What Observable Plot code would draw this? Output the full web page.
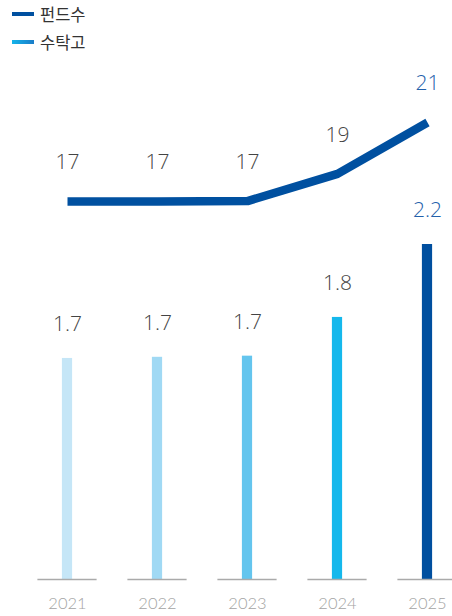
<!DOCTYPE html>
<html>
<head>
<meta charset="utf-8">
<script src="https://cdn.jsdelivr.net/npm/d3@7"></script>
<script src="https://cdn.jsdelivr.net/npm/@observablehq/plot@0.6"></script>
<style>
  html, body { margin: 0; padding: 0; background: #fff; }
  #wrap { position: relative; width: 452px; height: 616px; overflow: hidden; }
  #wrap svg { position: absolute; left: 0; top: 0; }
  .legend { position: absolute; left: 12px; font-family: "Noto Sans CJK KR", "Noto Sans", sans-serif; font-size: 16.5px; color: #333; display: flex; align-items: center; }
  .sw { width: 22px; height: 4px; margin-right: 6px; }
</style>
</head>
<body>
<div id="wrap">
  <div class="legend" style="top:2px"><span class="sw" style="background:#0050a0"></span>펀드수</div>
  <div class="legend" style="top:30px"><span class="sw" style="background:linear-gradient(90deg,#14b4ea,#1a7cc8)"></span>수탁고</div>
</div>
<script>
const years = ["2021", "2022", "2023", "2024", "2025"];
const assets = [1.70, 1.705, 1.71, 1.88, 2.2];          // 수탁고
const assetLabels = ["1.7", "1.7", "1.7", "1.8", "2.2"];
const funds = [17, 17, 17.02, 18.4, 21];                 // 펀드수
const fundLabels = ["17", "17", "17", "19", "21"];
const barColors = ["#c5e6f7", "#a0d9f4", "#64c5ee", "#15b8ec", "#004f9f"];
const labelColors = ["#444", "#444", "#444", "#444", "#2360aa"];

const barData = years.map((y, i) => ({year: y, v: assets[i], label: assetLabels[i], color: barColors[i], lc: labelColors[i]}));
const lineData = years.map((y, i) => ({year: y, v: funds[i], label: fundLabels[i], lc: labelColors[i]}));

const xScale = {type: "band", domain: years, range: [65 - 45.35, 428 + 45.35], padding: 0};
const base = {width: 452, height: 616, marginTop: 0, marginRight: 0, marginBottom: 0, marginLeft: 0,
  style: {background: "transparent", overflow: "visible"}};

const bars = Plot.plot({
  ...base,
  x: {...xScale, axis: null},
  y: {domain: [0.73, 2.2], range: [579, 244], axis: null},
  color: {type: "identity"},
  marks: [
    Plot.barY(barData, {x: "year", y1: 0.73, y2: "v", fill: "color", insetLeft: 39.9, insetRight: 39.9}),
    Plot.tickY(barData, {x: "year", y: 0.73, stroke: "#aaaaaa", strokeWidth: 1.5, insetLeft: 15.4, insetRight: 15.4}),
    Plot.text(barData, {x: "year", y: "v", text: "label", dy: -34, fill: "lc", fontSize: 21,
      fontFamily: "Open Sans", fontWeight: 300}),
    Plot.text(barData, {x: "year", y: 0.73, text: "year", dy: 24, fill: "#a3a3a3", fontSize: 16.5,
      fontFamily: "Lato", fontWeight: 300})
  ]
});

const line = Plot.plot({
  ...base,
  x: {...xScale, axis: null},
  y: {domain: [17, 21], range: [201, 122], axis: null},
  color: {type: "identity"},
  marks: [
    Plot.lineY(lineData, {x: "year", y: "v", stroke: "#0050a0", strokeWidth: 8.5, strokeLinecap: "butt", strokeLinejoin: "miter"}),
    Plot.text(lineData, {x: "year", y: "v", text: "label", dy: -39, fill: "lc", fontSize: 21,
      fontFamily: "Open Sans", fontWeight: 300})
  ]
});

document.getElementById("wrap").append(bars, line);
</script>
</body>
</html>
